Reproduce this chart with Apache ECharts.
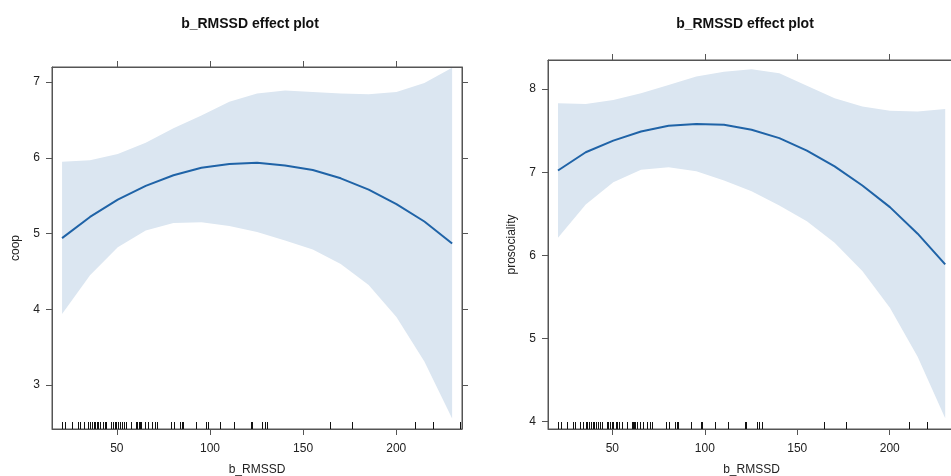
<!DOCTYPE html>
<html>
<head>
<meta charset="utf-8">
<script src="https://cdn.jsdelivr.net/npm/echarts@6/dist/echarts.min.js"></script>
<style>
  html, body { margin: 0; padding: 0; background: #fff; }
  #chart { width: 951px; height: 476px; }
</style>
</head>
<body>
<div id="chart"></div>
<script>
// x values where the effect was evaluated
const xFit = [20.6, 35.6, 50.5, 65.5, 80.4, 95.4, 110.4, 125.3, 140.3, 155.2, 170.2, 185.2, 200.1, 215.1, 230.0];

const coopFit = [4.94, 5.22, 5.45, 5.63, 5.77, 5.87, 5.92, 5.935, 5.90, 5.84, 5.73, 5.58, 5.39, 5.16, 4.87];
const coopUpper = [5.95, 5.97, 6.05, 6.20, 6.39, 6.56, 6.74, 6.85, 6.89, 6.87, 6.85, 6.84, 6.87, 6.99, 7.19];
const coopLower = [3.94, 4.45, 4.82, 5.04, 5.14, 5.15, 5.10, 5.02, 4.91, 4.79, 4.60, 4.32, 3.90, 3.31, 2.56];

const prosFit = [7.02, 7.24, 7.38, 7.49, 7.56, 7.58, 7.57, 7.51, 7.41, 7.26, 7.07, 6.84, 6.58, 6.26, 5.89];
const prosUpper = [7.83, 7.82, 7.87, 7.95, 8.05, 8.15, 8.21, 8.24, 8.19, 8.04, 7.89, 7.79, 7.74, 7.73, 7.76];
const prosLower = [6.21, 6.61, 6.88, 7.03, 7.06, 7.01, 6.90, 6.77, 6.60, 6.41, 6.15, 5.81, 5.37, 4.78, 4.04];

// observed b_RMSSD values (rug)
const rug = [20.5, 22.1, 25.7, 28.9, 30.0, 32.5, 34.3, 35.8, 36.5, 37.6, 38.3, 39.4, 40.1, 41.2, 42.4,
  43.4, 44.3, 47.0, 47.9, 48.8, 49.7, 50.6, 51.8, 52.7, 53.6, 55.1, 57.8, 60.5, 61.0, 61.7, 62.4,
  63.2, 65.0, 66.8, 68.9, 70.4, 71.3, 79.0, 80.8, 83.9, 85.2, 85.7, 92.5, 97.9, 98.7, 105.5, 112.7,
  121.9, 122.4, 128.0, 129.3, 130.7, 164.4, 176.1, 210.2, 219.9, 234.0];

const xTicks = [50, 100, 150, 200];
const coopTicks = [3, 4, 5, 6, 7];
const prosTicks = [4, 5, 6, 7, 8];

const FONT = "Liberation Sans, Arial, sans-serif";
const AXIS_COLOR = "#555";
const BAND = "#dbe6f1";
const LINE = "#1f63a7";

const X_MIN = 15.2, X_MAX = 235.3;

function pairs(ys) {
  return xFit.map((x, i) => [x, ys[i]]);
}

function xAxes(gridIndex) {
  const base = {
    type: "value",
    gridIndex: gridIndex,
    min: X_MIN,
    max: X_MAX,
    splitLine: { show: false },
    axisLine: { lineStyle: { color: AXIS_COLOR } },
    axisTick: { length: 6, customValues: xTicks, lineStyle: { color: AXIS_COLOR } }
  };
  return [
    Object.assign({}, base, {
      position: "bottom",
      name: "b_RMSSD",
      nameLocation: "middle",
      nameGap: 35,
      nameTextStyle: { fontFamily: FONT, fontSize: 12, color: "#222" },
      axisLabel: { customValues: xTicks, fontFamily: FONT, fontSize: 12, color: "#222", margin: 14 }
    }),
    Object.assign({}, base, { position: "top", axisLabel: { show: false } })
  ];
}

function yAxes(gridIndex, name, min, max, ticks) {
  const base = {
    type: "value",
    gridIndex: gridIndex,
    min: min,
    max: max,
    splitLine: { show: false },
    axisLine: { lineStyle: { color: AXIS_COLOR } },
    axisTick: { length: 6, customValues: ticks, lineStyle: { color: AXIS_COLOR } }
  };
  return [
    Object.assign({}, base, {
      position: "left",
      name: name,
      nameLocation: "middle",
      nameGap: 30,
      nameRotate: 90,
      nameTextStyle: { fontFamily: FONT, fontSize: 12, color: "#222" },
      axisLabel: { customValues: ticks, fontFamily: FONT, fontSize: 12, color: "#222", margin: 12 }
    }),
    Object.assign({}, base, { position: "right", axisLabel: { show: false } })
  ];
}

function panelSeries(axisIdx, lower, upper, fit, yMin) {
  return [
    {
      // confidence band: polygon through upper points then lower points reversed
      type: "custom",
      xAxisIndex: axisIdx,
      yAxisIndex: axisIdx,
      data: [0],
      silent: true,
      renderItem: function (params, api) {
        const pts = [];
        for (let i = 0; i < xFit.length; i++) pts.push(api.coord([xFit[i], upper[i]]));
        for (let i = xFit.length - 1; i >= 0; i--) pts.push(api.coord([xFit[i], lower[i]]));
        return {
          type: "polygon",
          shape: { points: pts },
          style: { fill: BAND }
        };
      },
      z: 1
    },
    {
      type: "line",
      xAxisIndex: axisIdx,
      yAxisIndex: axisIdx,
      data: pairs(fit),
      symbol: "none",
      lineStyle: { color: LINE, width: 2 },
      z: 5
    },
    {
      type: "custom",
      xAxisIndex: axisIdx,
      yAxisIndex: axisIdx,
      data: rug.map(x => [x, yMin]),
      renderItem: function (params, api) {
        const p = api.coord([api.value(0), api.value(1)]);
        const x = Math.round(p[0]) + 0.5;
        return {
          type: "line",
          shape: { x1: x, y1: p[1], x2: x, y2: p[1] - 7 },
          style: { stroke: "#111", lineWidth: 1 }
        };
      },
      z: 6
    }
  ];
}

const coopMin = 2.42, coopMax = 7.2;
const prosMin = 3.91, prosMax = 8.35;

const options = {
  animation: false,
  backgroundColor: "#fff",
  textStyle: { fontFamily: FONT },
  title: [
    {
      text: "b_RMSSD effect plot",
      left: 245,
      top: 12,
      textAlign: "center",
      textStyle: { fontFamily: FONT, fontSize: 14, fontWeight: "bold", color: "#111" }
    },
    {
      text: "b_RMSSD effect plot",
      left: 740,
      top: 12,
      textAlign: "center",
      textStyle: { fontFamily: FONT, fontSize: 14, fontWeight: "bold", color: "#111" }
    }
  ],
  grid: [
    { left: 52, top: 67, width: 410, height: 362, outerBoundsMode: "none", containLabel: false,
      show: true, borderColor: AXIS_COLOR, borderWidth: 1, backgroundColor: "transparent" },
    { left: 548, top: 60, width: 407, height: 369, outerBoundsMode: "none", containLabel: false,
      show: true, borderColor: AXIS_COLOR, borderWidth: 1, backgroundColor: "transparent" }
  ],
  xAxis: xAxes(0).concat(xAxes(1)),
  yAxis: yAxes(0, "coop", coopMin, coopMax, coopTicks).concat(yAxes(1, "prosociality", prosMin, prosMax, prosTicks)),
  series: panelSeries(0, coopLower, coopUpper, coopFit, coopMin)
    .concat(panelSeries(2, prosLower, prosUpper, prosFit, prosMin))
};

let myChart = echarts.init(document.getElementById("chart"));
myChart.setOption(options);
</script>
</body>
</html>
